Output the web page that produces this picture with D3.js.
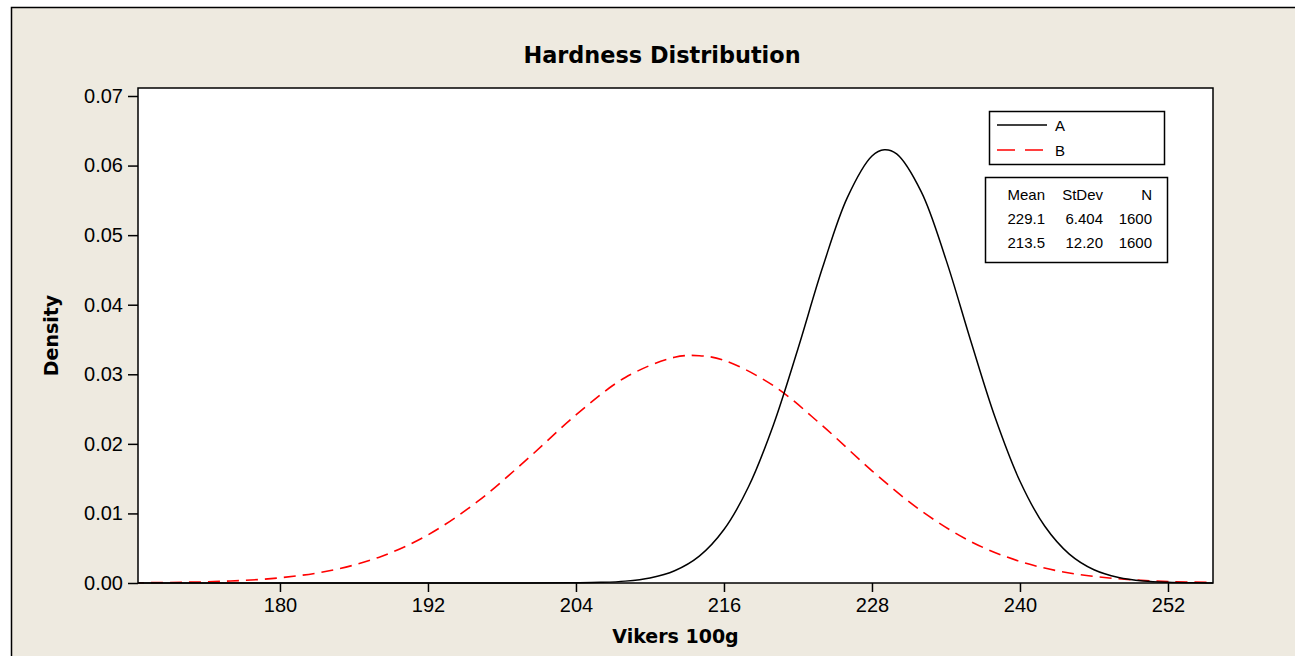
<!DOCTYPE html>
<html>
<head>
<meta charset="utf-8">
<script src="https://cdn.jsdelivr.net/npm/d3@7"></script>
<style>
  html, body { margin: 0; padding: 0; background: #fff; }
  svg { display: block; }
</style>
</head>
<body>
<svg id="chart" width="1295" height="656"></svg>
<script>
// values
const xTicks = [180, 192, 204, 216, 228, 240, 252];
const yTicks = [0, 0.01, 0.02, 0.03, 0.04, 0.05, 0.06, 0.07];

const aHardness = [168, 200, 204, 206, 208, 210, 212, 214, 216, 218, 220, 222, 224, 226, 228, 229, 230, 232, 234, 236, 238, 240, 242, 244, 246, 248, 250, 252, 254, 257];
const aDensity  = [0, 0.000002, 0.00003, 0.00009, 0.00027, 0.00073, 0.00176, 0.00386, 0.00768, 0.01387, 0.02269, 0.03368, 0.04537, 0.0554, 0.06138, 0.06228, 0.06168, 0.05622, 0.04648, 0.03486, 0.02371, 0.01463, 0.00819, 0.00416, 0.00191, 0.0008, 0.0003, 0.0001, 0.00003, 0];

const bHardness = [168, 172, 176, 180, 184, 188, 192, 196, 200, 204, 208, 212, 214, 216, 220, 224, 228, 232, 236, 240, 244, 248, 252, 256, 257];
const bDensity  = [0.00003, 0.0001, 0.00029, 0.00075, 0.00176, 0.00368, 0.00692, 0.01169, 0.01773, 0.02415, 0.02954, 0.03245, 0.03267, 0.03202, 0.02837, 0.02258, 0.01613, 0.01036, 0.00597, 0.00309, 0.00144, 0.0006, 0.00022, 0.00008, 0.00006];

const seriesNames = ['A', 'B'];
const statsHeader = ['Mean', 'StDev', 'N'];
const statsRows = [['229.1', '6.404', '1600'], ['213.5', '12.20', '1600']];

document.addEventListener('DOMContentLoaded', () => {
    const svg = d3.select('#chart');
    const plot = { left: 138, right: 1213, top: 88, bottom: 583 };
    const numFont = '"Liberation Sans", Arial, sans-serif';
    const boldFont = '"DejaVu Sans", Verdana, sans-serif';

    // beige frame, only its top and left edges are in view
    svg.append('rect')
        .attr('x', 11.5).attr('y', 7.5)
        .attr('width', 1400).attr('height', 800)
        .attr('fill', '#eeeae0')
        .attr('stroke', '#000').attr('stroke-width', 1.5);

    svg.append('rect')
        .attr('x', plot.left).attr('y', plot.top)
        .attr('width', plot.right - plot.left).attr('height', plot.bottom - plot.top)
        .attr('fill', '#fff');

    const x = d3.scaleLinear().domain([168.49, 255.65]).range([plot.left, plot.right]);
    const y = d3.scaleLinear().domain([0, 0.07115]).range([plot.bottom, plot.top]);

    svg.append('defs').append('clipPath').attr('id', 'clip')
        .append('rect')
        .attr('x', plot.left).attr('y', plot.top - 2)
        .attr('width', plot.right - plot.left).attr('height', plot.bottom - plot.top + 4);

    const line = d3.line()
        .x(d => x(d[0]))
        .y(d => y(d[1]))
        .curve(d3.curveCatmullRom);

    const curves = svg.append('g').attr('clip-path', 'url(#clip)');

    curves.append('path')
        .datum(bHardness.map((h, i) => [h, bDensity[i]]))
        .attr('d', line)
        .attr('fill', 'none')
        .attr('stroke', '#ff0000')
        .attr('stroke-width', 1.6)
        .attr('stroke-dasharray', '12,7');

    curves.append('path')
        .datum(aHardness.map((h, i) => [h, aDensity[i]]))
        .attr('d', line)
        .attr('fill', 'none')
        .attr('stroke', '#000')
        .attr('stroke-width', 1.5);

    // plot border
    svg.append('rect')
        .attr('x', plot.left).attr('y', plot.top)
        .attr('width', plot.right - plot.left).attr('height', plot.bottom - plot.top)
        .attr('fill', 'none')
        .attr('stroke', '#000').attr('stroke-width', 1.5);

    const xAxis = svg.append('g')
        .attr('transform', `translate(0,${plot.bottom})`)
        .call(d3.axisBottom(x).tickValues(xTicks).tickSize(9).tickPadding(6).tickSizeOuter(0));

    const yAxis = svg.append('g')
        .attr('transform', `translate(${plot.left},0)`)
        .call(d3.axisLeft(y).tickValues(yTicks).tickSize(10).tickPadding(5).tickFormat(d3.format('.2f')).tickSizeOuter(0));

    [xAxis, yAxis].forEach(ax => {
        ax.select('.domain').remove();
        ax.selectAll('line').attr('stroke', '#000').attr('stroke-width', 1.5);
        ax.selectAll('text')
            .attr('fill', '#000')
            .style('font-family', numFont)
            .style('font-size', '20px');
    });

    svg.append('text')
        .attr('x', 662).attr('y', 63)
        .attr('text-anchor', 'middle')
        .style('font-family', boldFont).style('font-size', '22.4px').style('font-weight', 'bold')
        .text('Hardness Distribution');

    svg.append('text')
        .attr('x', (plot.left + plot.right) / 2).attr('y', 643)
        .attr('text-anchor', 'middle')
        .style('font-family', boldFont).style('font-size', '19px').style('font-weight', 'bold')
        .text('Vikers 100g');

    svg.append('text')
        .attr('transform', `translate(58,${(plot.top + plot.bottom) / 2}) rotate(-90)`)
        .attr('text-anchor', 'middle')
        .style('font-family', boldFont).style('font-size', '19px').style('font-weight', 'bold')
        .text('Density');

    // legend
    const legend = svg.append('g');
    legend.append('rect')
        .attr('x', 989.5).attr('y', 111.5).attr('width', 175).attr('height', 53)
        .attr('fill', '#fff').attr('stroke', '#000').attr('stroke-width', 1.5);

    seriesNames.forEach((name, i) => {
        const ly = 125 + i * 25;
        legend.append('line')
            .attr('x1', 997).attr('x2', i === 0 ? 1047 : 1043).attr('y1', ly).attr('y2', ly)
            .attr('stroke', i === 0 ? '#000' : '#ff0000')
            .attr('stroke-width', 1.5)
            .attr('stroke-dasharray', i === 0 ? null : '18,10');
        legend.append('text')
            .attr('x', 1055).attr('y', ly + 6)
            .style('font-family', numFont).style('font-size', '15px')
            .text(name);
    });

    // stats table
    const stats = svg.append('g');
    stats.append('rect')
        .attr('x', 985.5).attr('y', 177.5).attr('width', 182).attr('height', 85)
        .attr('fill', '#fff').attr('stroke', '#000').attr('stroke-width', 1.5);

    const colRight = [1045, 1103, 1152];
    [statsHeader].concat(statsRows).forEach((row, r) => {
        row.forEach((cell, c) => {
            stats.append('text')
                .attr('x', colRight[c]).attr('y', 200 + r * 24)
                .attr('text-anchor', 'end')
                .style('font-family', numFont).style('font-size', '15px')
                .text(cell);
        });
    });
});
</script>
</body>
</html>
